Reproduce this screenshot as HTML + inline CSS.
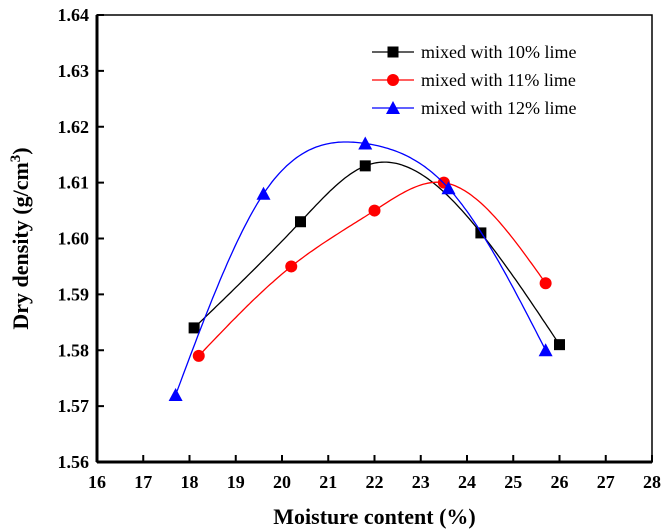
<!DOCTYPE html>
<html><head><meta charset="utf-8"><style>
body{margin:0;background:#fff}
svg{display:block;font-family:"Liberation Serif",serif}
</style></head><body>
<svg id="chart" width="672" height="531"></svg>
<script>
const xTicks=[16,17,18,19,20,21,22,23,24,25,26,27,28];
const yTicks=[1.56,1.57,1.58,1.59,1.60,1.61,1.62,1.63,1.64];
const seriesNames=["mixed with 10% lime","mixed with 11% lime","mixed with 12% lime"];
const x10=[18.1,20.4,21.8,24.3,26.0];
const y10=[1.584,1.603,1.613,1.601,1.581];
const x11=[18.2,20.2,22.0,23.5,25.7];
const y11=[1.579,1.595,1.605,1.610,1.592];
const x12=[17.7,19.6,21.8,23.6,25.7];
const y12=[1.572,1.608,1.617,1.609,1.580];
const colors=["#000","#f00","#00f"];
const markers=["square","circle","triangle"];

const L=97,R=652,T=15,B=462;
const sx=v=>L+(v-16)/(28-16)*(R-L);
const sy=v=>B-(v-1.56)/(1.64-1.56)*(B-T);
const svg=document.getElementById('chart');
const NS="http://www.w3.org/2000/svg";
function mk(tag,attrs,parent){const e=document.createElementNS(NS,tag);for(const k in attrs)e.setAttribute(k,attrs[k]);(parent||svg).appendChild(e);return e;}

const frame=mk('rect',{x:L,y:T,width:R-L,height:B-T,fill:'none',stroke:'#000','stroke-width':1.5});


mk('line',{x1:L,y1:T,x2:L,y2:B,stroke:'#000','stroke-width':3});
mk('line',{x1:L,y1:B,x2:R,y2:B,stroke:'#000','stroke-width':3});

xTicks.forEach(v=>{
  mk('line',{x1:sx(v),y1:B,x2:sx(v),y2:B-7,stroke:'#000','stroke-width':2});
  const t=mk('text',{x:sx(v),y:B+26,'text-anchor':'middle','font-size':18,'font-weight':'bold'});
  t.textContent=v;
  
  
});
yTicks.forEach(v=>{
  mk('line',{x1:L,y1:sy(v),x2:L+7,y2:sy(v),stroke:'#000','stroke-width':2});
  const t=mk('text',{x:L-8,y:sy(v)+6,'text-anchor':'end','font-size':18,'font-weight':'bold'});
  t.textContent=v.toFixed(2);
  
  
});
const xt=mk('text',{x:(L+R)/2,y:524,'text-anchor':'middle','font-size':22,'font-weight':'bold'});
xt.textContent='Moisture content (%)';


const yt=mk('text',{transform:'translate(28,'+((T+B)/2)+') rotate(-90)','text-anchor':'middle','font-size':22,'font-weight':'bold'});
yt.innerHTML='Dry density (g/cm<tspan dy="-8" font-size="15">3</tspan><tspan dy="8">)</tspan>';



function spline(xs,ys){
  const n=xs.length,h=[],al=[],l=[1],mu=[0],z=[0],c=new Array(n).fill(0),b=[],d=[];
  for(let i=0;i<n-1;i++)h.push(xs[i+1]-xs[i]);
  for(let i=1;i<n-1;i++)al[i]=3/h[i]*(ys[i+1]-ys[i])-3/h[i-1]*(ys[i]-ys[i-1]);
  for(let i=1;i<n-1;i++){l[i]=2*(xs[i+1]-xs[i-1])-h[i-1]*mu[i-1];mu[i]=h[i]/l[i];z[i]=(al[i]-h[i-1]*z[i-1])/l[i];}
  for(let j=n-2;j>=0;j--){c[j]=(j>0?z[j]:0)-mu[j]*c[j+1];b[j]=(ys[j+1]-ys[j])/h[j]-h[j]*(c[j+1]+2*c[j])/3;d[j]=(c[j+1]-c[j])/(3*h[j]);}
  return x=>{let i=0;while(i<n-2&&x>xs[i+1])i++;const t=x-xs[i];return ys[i]+b[i]*t+c[i]*t*t+d[i]*t*t*t;};
}
function marker(type,x,y,c,g){
  let m;
  if(type==='square')m=mk('rect',{x:x-5.5,y:y-5.5,width:11,height:11,fill:c},g);
  else if(type==='circle')m=mk('circle',{cx:x,cy:y,r:6,fill:c},g);
  else m=mk('polygon',{points:`${x},${y-7} ${x-7},${y+6} ${x+7},${y+6}`,fill:c},g);
  return m;
}
const xs=[x10,x11,x12],ys=[y10,y11,y12];
xs.forEach((X,k)=>{
  const g=mk('g',{});
  
  
  const f=spline(X,ys[k]);
  let d='';const a=X[0],b=X[X.length-1];
  for(let i=0;i<=150;i++){const x=a+(b-a)*i/150;d+=(i?'L':'M')+sx(x).toFixed(1)+','+sy(f(x)).toFixed(1);}
  const p=mk('path',{d:d,fill:'none',stroke:colors[k],'stroke-width':1.3},g);
  
  
  X.forEach((x,i)=>{
    const m=marker(markers[k],sx(x),sy(ys[k][i]),colors[k],g);
    
    
  });
  const ly=52+k*28;
  const lg=mk('g',{});
  
  
  mk('line',{x1:372,y1:ly,x2:414,y2:ly,stroke:colors[k],'stroke-width':1.3},lg);
  marker(markers[k],393,ly,colors[k],lg);
  const t=mk('text',{x:421,y:ly+6,'font-size':18},lg);
  t.textContent=seriesNames[k];
});
</script>
</body></html>
